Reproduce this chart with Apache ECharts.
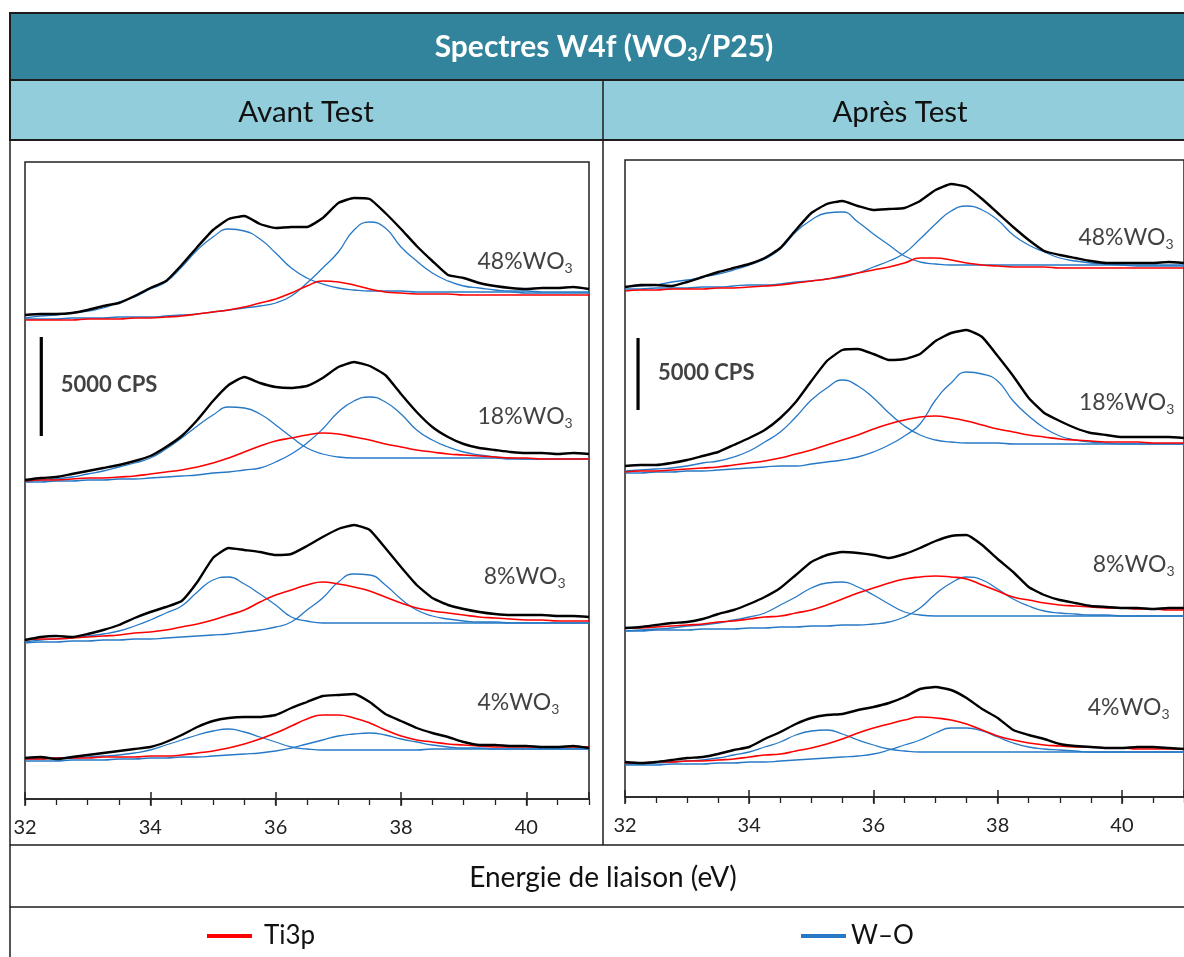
<!DOCTYPE html>
<html>
<head>
<meta charset="utf-8">
<script src="https://cdn.jsdelivr.net/npm/echarts@6/dist/echarts.min.js"></script>
<style>
html,body{margin:0;padding:0;background:#fff;}
#chart{width:1184px;height:957px;}
</style>
</head>
<body>
<div id="chart"></div>
<script>
// ---------- DATA (binding energy in eV, intensity in arbitrary offset units) ----------
const energies = [32,32.25,32.5,32.75,33,33.25,33.5,33.75,34,34.25,34.5,34.75,35,35.25,35.5,35.75,36,36.25,36.5,36.75,37,37.25,37.5,37.75,38,38.25,38.5,38.75,39,39.25,39.5,39.75,40,40.25,40.5,40.75,41];
const xTickLabels = ['32','34','36','38','40'];
const sampleNames = ['48%', '18%', '8%', '4%'];
const panelTitles = ['Avant Test', 'Après Test'];
const scaleBarText = '5000 CPS';

// Avant Test
const avant48_env = [484,485,485,486,489,493,496,503,511,518,534,552,569,580,583,575,571,572,572,581,596,601,600,586,570,553,538,524,521,516,513,511,510,511,511,512,510];
const avant48_wo1 = [481,483,484,486,488,491,497,502,510,517,532,549,562,570,568,560,546,531,521,515,511,509,508,508,508,507,507,507,507,507,507,507,506,506,506,506,506];
const avant48_wo2 = [480,480,480,481,481,481,482,482,482,483,484,485,487,489,491,493,496,503,516,531,547,569,577,571,552,538,526,518,513,511,509,508,508,507,507,507,507];
const avant48_ti  = [479,479,479,479,480,480,480,481,481,482,483,485,487,489,492,496,500,506,513,518,517,514,510,507,506,505,505,505,504,504,504,504,504,504,504,504,504];

const avant18_env = [319,321,322,325,328,331,334,338,343,352,363,379,398,414,422,416,412,411,413,421,432,437,433,424,405,387,372,362,355,351,349,347,346,346,345,346,345];
const avant18_wo1 = [317,319,320,322,325,328,332,336,341,350,361,373,384,392,391,385,374,362,351,345,342,341,341,341,341,341,341,341,341,341,341,340,340,340,340,340,340];
const avant18_wo2 = [317,317,318,318,319,319,320,320,321,322,323,324,326,327,329,331,337,345,356,370,387,398,402,397,385,369,359,352,347,344,342,341,340,340,340,340,340];
const avant18_ti  = [318,319,319,320,321,321,322,323,325,327,329,332,336,341,347,353,358,361,364,366,365,362,359,355,352,349,347,345,344,343,342,341,341,340,340,340,340];

const avant8_env = [159,162,163,162,165,169,174,181,187,192,198,217,241,251,249,247,244,245,253,262,270,274,269,251,232,214,201,194,190,187,185,184,184,184,183,183,182];
const avant8_wo1 = [157,159,160,161,163,165,168,173,179,186,193,207,219,222,215,205,194,182,178,176,176,176,176,176,176,176,176,176,176,176,176,176,176,176,176,176,176];
const avant8_wo2 = [156,157,157,158,158,159,159,160,160,161,162,163,164,165,167,169,172,177,189,201,217,225,224,214,200,189,183,180,178,177,177,176,176,176,176,176,176];
const avant8_ti  = [159,160,160,161,162,163,164,166,167,169,172,175,179,184,189,197,204,209,214,217,215,212,208,202,196,191,188,186,184,182,181,180,179,179,178,178,178];

const avant4_env = [41,42,40,42,44,46,48,50,52,57,64,72,78,81,82,82,84,91,97,103,104,105,97,85,78,71,66,62,57,54,54,53,53,52,52,53,51];
const avant4_wo1 = [40,40,41,41,42,43,44,46,49,54,59,64,68,70,67,62,57,52,50,49,49,49,49,49,49,49,50,50,50,50,50,50,50,50,50,50,50];
const avant4_wo2 = [38,38,38,39,39,39,40,40,41,41,42,42,43,44,45,46,48,51,55,59,63,65,66,64,60,57,54,52,51,51,50,50,50,50,50,50,50];
const avant4_ti  = [40,40,41,41,41,42,42,42,43,43,44,46,48,51,55,60,66,73,80,84,84,81,76,69,63,59,57,55,54,53,52,52,52,52,52,52,52];

// Après Test
const apres48_env = [510,512,512,511,515,520,525,529,533,539,549,567,584,593,596,591,587,588,589,596,607,613,610,598,584,570,557,546,542,539,536,534,534,534,534,535,534];
const apres48_wo1 = [510,511,512,515,517,520,523,527,532,538,548,565,577,584,585,575,563,552,541,535,533,532,532,532,532,532,532,532,532,532,532,532,532,532,532,532,532];
const apres48_wo2 = [508,508,509,509,509,510,510,511,512,512,513,515,516,518,520,524,530,536,544,558,573,586,591,587,577,562,552,545,539,536,534,533,532,531,531,531,531];
const apres48_ti  = [506,507,507,508,508,508,509,509,510,511,512,514,516,518,521,524,527,530,534,539,539,537,534,532,531,530,530,530,529,529,529,529,529,529,529,529,529];

const apres18_env = [331,332,332,334,337,341,345,352,359,367,379,395,416,436,447,448,443,437,438,443,456,464,467,460,441,421,399,384,376,369,364,362,360,360,360,360,359];
const apres18_wo1 = [326,327,328,329,331,334,336,340,346,355,365,380,397,409,417,411,399,384,371,362,357,355,354,354,354,353,353,353,353,353,353,353,353,353,353,353,353];
const apres18_wo2 = [324,324,325,325,326,326,327,328,329,330,331,331,333,335,337,340,345,352,361,373,397,414,425,423,416,396,381,369,361,357,355,354,353,353,353,353,353];
const apres18_ti  = [325,326,326,327,328,329,330,332,334,336,339,343,347,352,357,362,368,373,377,380,381,379,376,372,368,365,362,360,358,357,356,355,355,355,354,354,354];

const apres8_env = [169,170,172,174,175,178,183,187,193,200,209,222,235,242,245,244,242,239,243,249,256,261,262,252,238,225,210,202,197,194,191,190,189,189,188,189,189];
const apres8_wo1 = [166,167,168,169,171,172,174,177,180,184,192,200,209,214,215,210,202,193,185,182,181,181,181,181,181,181,181,181,181,181,181,181,181,181,181,181,181];
const apres8_wo2 = [166,166,167,167,167,168,168,168,169,169,170,170,171,171,172,172,173,175,180,189,203,214,220,217,208,198,191,186,184,183,182,182,181,181,181,181,181];
const apres8_ti  = [169,169,170,171,172,173,175,176,178,180,181,184,187,192,198,204,209,214,218,220,221,220,218,212,206,200,197,194,192,191,190,189,189,188,188,187,187];

const apres4_env = [35,34,35,37,39,40,43,47,50,58,65,73,79,82,83,87,90,94,100,108,110,107,99,88,79,67,62,58,53,51,50,49,49,50,50,49,48];
const apres4_wo1 = [33,33,34,35,36,37,39,42,45,50,55,62,66,67,63,57,52,48,46,45,45,45,45,45,45,45,45,45,45,45,45,45,45,45,45,45,45];
const apres4_wo2 = [32,32,32,33,33,33,34,34,35,35,36,37,38,39,40,41,43,47,52,57,64,69,69,66,60,54,50,48,47,46,45,45,45,45,45,45,45];
const apres4_ti  = [34,34,35,35,36,36,37,38,40,42,43,46,49,53,58,64,69,73,77,80,79,77,73,67,61,57,54,52,51,50,50,49,49,48,48,48,48];

// annotation anchors (eV, intensity units)
const avantLabelAt = [[39.22,537],[39.22,382],[39.32,222],[39.22,96]];
const apresLabelAt = [[39.30,559],[39.31,394],[39.53,232],[39.45,89]];
const avantScaleBar = [[32.26,363],[32.26,462]];
const apresScaleBar = [[32.21,387],[32.21,459]];
const avantScaleTextAt = [32.57,414];
const apresScaleTextAt = [32.53,424];

// ---------- CHART ----------
const FONT = 'Lato, "Open Sans", "DejaVu Sans", sans-serif';
const BLUE = '#2779C6', RED = '#FF0000', BLACK = '#000000', AXIS = '#222222';

const panels = [
  { rows: [[avant48_env,avant48_wo1,avant48_wo2,avant48_ti],[avant18_env,avant18_wo1,avant18_wo2,avant18_ti],[avant8_env,avant8_wo1,avant8_wo2,avant8_ti],[avant4_env,avant4_wo1,avant4_wo2,avant4_ti]],
    labelAt: avantLabelAt, bar: avantScaleBar, barText: avantScaleTextAt },
  { rows: [[apres48_env,apres48_wo1,apres48_wo2,apres48_ti],[apres18_env,apres18_wo1,apres18_wo2,apres18_ti],[apres8_env,apres8_wo1,apres8_wo2,apres8_ti],[apres4_env,apres4_wo1,apres4_wo2,apres4_ti]],
    labelAt: apresLabelAt, bar: apresScaleBar, barText: apresScaleTextAt }
];

function pts(arr){ return energies.map((e,i)=>[e, arr[i]]); }
function lineSeries(name, arr, g, color, width, smooth, z){
  return { type:'line', name:name, xAxisIndex:g*3, yAxisIndex:g, data:pts(arr),
    symbol:'none', showSymbol:false, smooth:smooth, silent:true, z:z,
    color:color, itemStyle:{color:color}, lineStyle:{color:color, width:width}, animation:false };
}

const series = [];
panels.forEach((p,g)=>{
  p.rows.forEach(r=>{
    series.push(lineSeries('W–O', r[1], g, BLUE, 1.3, 0.5, 2));
    series.push(lineSeries('W–O', r[2], g, BLUE, 1.3, 0.5, 2));
    series.push(lineSeries('Ti3p', r[3], g, RED, 1.6, 0.5, 3));
    series.push(lineSeries('Enveloppe', r[0], g, BLACK, 2.4, 0.15, 4));
  });
  series.push({ type:'scatter', xAxisIndex:g*3, yAxisIndex:g, symbolSize:0, silent:true, z:5, animation:false,
    data: p.labelAt.map((c,i)=>({value:c, name:sampleNames[i]})),
    label:{ show:true, position:'inside', align:'left', verticalAlign:'middle',
      formatter: prm => '{n|' + prm.name + 'WO}{s|3}',
      rich:{ n:{fontSize:23, fontFamily:FONT, color:'#111', lineHeight:26},
             s:{fontSize:14, fontFamily:FONT, color:'#111', lineHeight:14, verticalAlign:'bottom'} } } });
  series.push({ type:'line', xAxisIndex:g*3, yAxisIndex:g, data:p.bar, symbol:'none', silent:true, z:5, animation:false,
    lineStyle:{color:'#000', width:3.2} });
  series.push({ type:'scatter', xAxisIndex:g*3, yAxisIndex:g, symbolSize:0, silent:true, z:5, animation:false,
    data:[p.barText],
    label:{ show:true, position:'inside', align:'left', verticalAlign:'middle', formatter: scaleBarText,
      fontSize:22, fontWeight:'bold', fontFamily:FONT, color:'#111' } });
});

function xAxes(g){
  const base = { gridIndex:g, type:'value', min:32, max:41, position:'bottom', splitLine:{show:false} };
  return [
    Object.assign({}, base, { interval:2,
      axisLine:{show:true, onZero:false, lineStyle:{color:AXIS, width:1.5}},
      axisTick:{show:true, inside:false, length:7, lineStyle:{color:AXIS, width:1.5}},
      axisLabel:{show:true, margin:19, fontSize:20, fontFamily:FONT, color:'#222', showMaxLabel:false,
        formatter: v => (xTickLabels.indexOf(String(v))>=0 ? String(v) : '')} }),
    Object.assign({}, base, { interval:2,
      axisLine:{show:false}, axisLabel:{show:false},
      axisTick:{show:true, inside:true, length:7, lineStyle:{color:AXIS, width:1.5}} }),
    Object.assign({}, base, { interval:0.5,
      axisLine:{show:false}, axisLabel:{show:false},
      axisTick:{show:true, inside:false, length:6, lineStyle:{color:AXIS, width:1.3}} })
  ];
}

const legendCommon = { orient:'horizontal', padding:0, icon:'rect', itemWidth:45, itemHeight:4, selectedMode:false,
  textStyle:{fontSize:26, fontFamily:FONT, color:'#111'} };

const option = {
  backgroundColor:'#ffffff',
  animation:false,
  grid:[
    {left:25, top:162, width:564, height:637, show:true, borderColor:AXIS, borderWidth:1.5, backgroundColor:'transparent'},
    {left:625, top:160, width:563, height:637, show:true, borderColor:AXIS, borderWidth:1.5, backgroundColor:'transparent'}
  ],
  xAxis: xAxes(0).concat(xAxes(1)),
  yAxis: [
    {gridIndex:0, type:'value', min:0, max:637, show:false},
    {gridIndex:1, type:'value', min:0, max:637, show:false}
  ],
  legend:[
    Object.assign({}, legendCommon, {data:['Ti3p'], left:207, top:923, textStyle:Object.assign({}, legendCommon.textStyle, {padding:[0,0,0,7]})}),
    Object.assign({}, legendCommon, {data:['W–O'], left:801, top:923})
  ],
  graphic:[
    {type:'rect', z:-1, shape:{x:10, y:13, width:1200, height:67}, style:{fill:'#31849B', stroke:'#1c1c1c', lineWidth:2}},
    {type:'rect', z:-1, shape:{x:10, y:80, width:1200, height:60}, style:{fill:'#92CDDC', stroke:'#1c1c1c', lineWidth:2}},
    {type:'line', shape:{x1:10, y1:13, x2:10, y2:970}, style:{stroke:'#1c1c1c', lineWidth:1.5}},
    {type:'line', shape:{x1:603, y1:80, x2:603, y2:845}, style:{stroke:'#1c1c1c', lineWidth:1.5}},
    {type:'line', shape:{x1:10, y1:845, x2:1200, y2:845}, style:{stroke:'#1c1c1c', lineWidth:1.5}},
    {type:'line', shape:{x1:10, y1:907, x2:1200, y2:907}, style:{stroke:'#1c1c1c', lineWidth:1.5}},
    {type:'text', x:604, y:47, style:{text:'{t|Spectres W4f (WO}{s|3}{t|/P25)}', align:'center', verticalAlign:'middle',
      rich:{ t:{fontSize:30, fontWeight:'bold', fontFamily:FONT, fill:'#ffffff', lineHeight:34},
             s:{fontSize:18, fontWeight:'bold', fontFamily:FONT, fill:'#ffffff', lineHeight:18, verticalAlign:'bottom'} }}},
    {type:'text', x:306, y:112, style:{text:panelTitles[0], align:'center', verticalAlign:'middle', fontSize:29.5, fontFamily:FONT, fill:'#111'}},
    {type:'text', x:900, y:112, style:{text:panelTitles[1], align:'center', verticalAlign:'middle', fontSize:29.5, fontFamily:FONT, fill:'#111'}},
    {type:'text', x:603, y:878, style:{text:'Energie de liaison (eV)', align:'center', verticalAlign:'middle', fontSize:28, fontFamily:FONT, fill:'#111'}}
  ],
  series: series
};

const chart = echarts.init(document.getElementById('chart'), null, {renderer:'canvas'});
chart.setOption(option);
</script>
</body>
</html>
